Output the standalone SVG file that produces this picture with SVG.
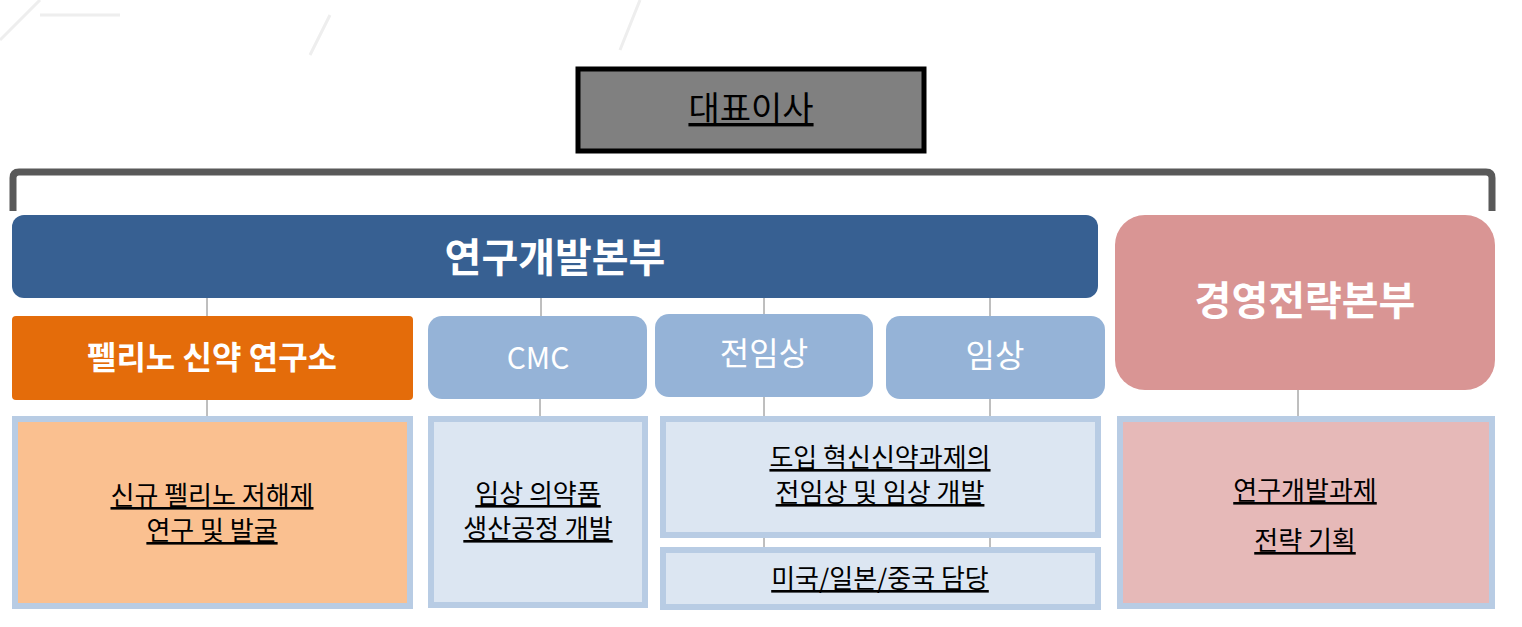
<svg xmlns="http://www.w3.org/2000/svg" width="1522" height="627" viewBox="0 0 1522 627">
<style>
text{font-family:"Noto Sans CJK KR","Noto Sans",sans-serif;text-anchor:middle}
.w{fill:#fff}
.b{font-weight:bold}
.u{fill:#000;font-size:26px;text-decoration:underline}
.lb{fill:#95b3d7}
.box{stroke:#b8cce4;stroke-width:6}
.c line{stroke:#7f7f7f;stroke-width:1}
</style>
<rect width="1522" height="627" fill="#fff"/>
<path d="M0,40 L40,0 M40,15 L120,15 M330,15 L310,55 M640,0 L620,50" stroke="#eee" stroke-width="3" fill="none"/>
<g id="ceo"><rect x="578" y="69" width="346" height="82" fill="#808080" stroke="#000" stroke-width="5"/><text x="751" y="121" style="font-size:34px;text-decoration:underline">대표이사</text></g>
<g class="c">
<path d="M13,211 V178 Q13,172 19,172 H1486 Q1492,172 1492,178 V211" fill="none" stroke="#595959" stroke-width="7"/>
<line x1="207" y1="298" x2="207" y2="316"/><line x1="207" y1="400" x2="207" y2="416"/>
<line x1="541" y1="298" x2="541" y2="316"/><line x1="540" y1="399" x2="540" y2="416"/>
<line x1="764" y1="298" x2="764" y2="314"/><line x1="764" y1="397" x2="764" y2="416"/><line x1="764" y1="537" x2="764" y2="547"/>
<line x1="990" y1="298" x2="990" y2="316"/><line x1="990" y1="399" x2="990" y2="416"/><line x1="990" y1="537" x2="990" y2="547"/>
<line x1="1298" y1="390" x2="1298" y2="416"/>
</g>
<g id="rnd"><rect x="12" y="215" width="1086" height="83" rx="12" fill="#376092"/><text x="555" y="272" class="w b" style="font-size:40px">연구개발본부</text></g>
<g id="mgmt"><rect x="1115" y="215" width="380" height="175" rx="30" fill="#d99594"/><text x="1305" y="315" class="w b" style="font-size:40px">경영전략본부</text></g>
<g id="pelino"><rect x="12" y="316" width="401" height="84" rx="4" fill="#e46c0a"/><text x="212" y="369" class="w b" style="font-size:32px">펠리노 신약 연구소</text></g>
<g id="cmc"><rect x="428" y="316" width="219" height="83" rx="14" class="lb"/><text x="538" y="369" class="w" style="font-size:30px">CMC</text></g>
<g id="pre"><rect x="655" y="314" width="218" height="83" rx="14" class="lb"/><text x="764" y="365" class="w" style="font-size:32px">전임상</text></g>
<g id="clin"><rect x="886" y="316" width="219" height="83" rx="14" class="lb"/><text x="995" y="367" class="w" style="font-size:32px">임상</text></g>
<g id="pelino-d"><rect x="15" y="419" width="395" height="187" fill="#fac090" class="box"/><text x="212" y="505" class="u">신규 펠리노 저해제</text><text x="212" y="540" class="u">연구 및 발굴</text></g>
<g id="cmc-d"><rect x="431" y="419" width="214" height="186" fill="#dce6f2" class="box"/><text x="538" y="503" class="u">임상 의약품</text><text x="538" y="538" class="u">생산공정 개발</text></g>
<g id="dev-d"><rect x="663" y="419" width="435" height="116" fill="#dce6f2" class="box"/><text x="880" y="467" class="u">도입 혁신신약과제의</text><text x="880" y="502" class="u">전임상 및 임상 개발</text></g>
<g id="region-d"><rect x="663" y="550" width="435" height="57" fill="#dce6f2" class="box"/><text x="880" y="588" class="u">미국/일본/중국 담당</text></g>
<g id="mgmt-d"><rect x="1120" y="419" width="372" height="187" fill="#e6b9b8" class="box"/><text x="1305" y="500" class="u">연구개발과제</text><text x="1305" y="550" class="u">전략 기획</text></g>
</svg>
